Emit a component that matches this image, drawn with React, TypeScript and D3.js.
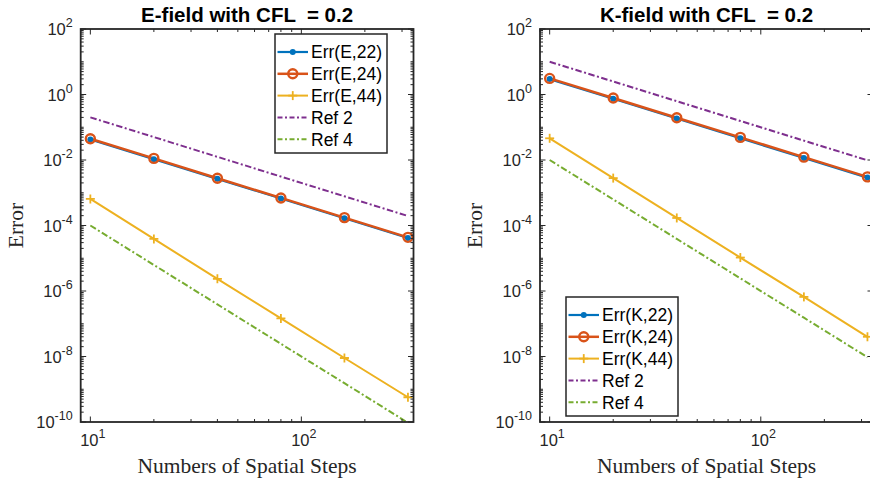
import React from "react";
import * as d3 from "d3";

// ---- Data ----
const steps = [10, 20, 40, 80, 160, 320];

const errE22 = [0.0425, 0.0106, 0.00266, 6.65e-4, 1.66e-4, 4.15e-5];
const errE24 = [0.0445, 0.0112, 0.00278, 6.95e-4, 1.74e-4, 4.35e-5];
const errE44 = [6.5e-4, 3.9e-5, 2.35e-6, 1.45e-7, 9.0e-9, 5.7e-10];
const refE2 = [0.2, 0.05, 0.0125, 0.003125, 7.8e-4, 1.95e-4];
const refE4 = [1e-4, 6.25e-6, 3.9e-7, 2.44e-8, 1.53e-9, 9.5e-11];

const errK22 = [2.95, 0.74, 0.185, 0.046, 0.0116, 0.0029];
const errK24 = [3.1, 0.78, 0.195, 0.049, 0.0122, 0.00305];
const errK44 = [0.046, 0.0028, 1.7e-4, 1.05e-5, 6.6e-7, 4.0e-8];
const refK2 = [10, 2.5, 0.625, 0.156, 0.039, 0.0098];
const refK4 = [0.01, 6.25e-4, 3.9e-5, 2.44e-6, 1.53e-7, 9.5e-9];

const xDomain = [9, 340];
const yDomain = [1e-10, 1e2];
const xTickExps = [1, 2];
const yTickExps = [2, 0, -2, -4, -6, -8, -10];

const titles = ["E-field with CFL  = 0.2", "K-field with CFL  = 0.2"];
const legendE = ["Err(E,22)", "Err(E,24)", "Err(E,44)", "Ref 2", "Ref 4"];
const legendK = ["Err(K,22)", "Err(K,24)", "Err(K,44)", "Ref 2", "Ref 4"];

const COLORS = ["#0072BD", "#D95319", "#EDB120", "#7E2F8E", "#77AC30"];
const AX = "#262626";
const SANS = "'Liberation Sans', Arial, Helvetica, sans-serif";
const SERIF = "'Liberation Serif', 'Times New Roman', serif";
const DASH = "6.5,2.5,2,2.5";

type SeriesStyle = { kind: "dot" | "circle" | "plus" | "dash"; width: number };
const styles: SeriesStyle[] = [
  { kind: "dot", width: 2.2 },
  { kind: "circle", width: 2.5 },
  { kind: "plus", width: 2 },
  { kind: "dash", width: 2 },
  { kind: "dash", width: 2 },
];

function Marker({ kind, cx, cy, color }: { kind: string; cx: number; cy: number; color: string }) {
  if (kind === "dot") return <circle cx={cx} cy={cy} r={3} fill={color} />;
  if (kind === "circle")
    return <circle cx={cx} cy={cy} r={4.5} fill="none" stroke={color} strokeWidth={2.4} />;
  if (kind === "plus")
    return (
      <g stroke={color} strokeWidth={1.8}>
        <line x1={cx - 4.5} x2={cx + 4.5} y1={cy} y2={cy} />
        <line x1={cx} x2={cx} y1={cy - 4.5} y2={cy + 4.5} />
      </g>
    );
  return null;
}

function Panel({
  id,
  left,
  right,
  title,
  series,
  labels,
  legend,
}: {
  id: string;
  left: number;
  right: number;
  title: string;
  series: number[][];
  labels: string[];
  legend: { x: number; y: number };
}) {
  const top = 29;
  const bottom = 422;
  const x = d3.scaleLog().domain(xDomain).range([left, right]);
  const y = d3.scaleLog().domain(yDomain).range([bottom, top]);
  const line = d3
    .line<number>()
    .x((_, i) => x(steps[i]))
    .y((d) => y(d));

  const xMinor: number[] = [];
  for (let e = 0; e <= 2; e++) {
    for (let m = 1; m <= 9; m++) {
      const v = m * Math.pow(10, e);
      if (v >= xDomain[0] && v <= xDomain[1] && !(m === 1 && xTickExps.includes(e))) xMinor.push(v);
    }
  }
  const yMinor: number[] = [];
  for (let e = -10; e <= 1; e++) {
    for (let m = 1; m <= 9; m++) {
      const v = m * Math.pow(10, e);
      if (m === 1 && yTickExps.includes(e)) continue;
      if (v > yDomain[0] && v < yDomain[1]) yMinor.push(v);
    }
  }
  const majL = 5.5;
  const minL = 3;
  const lw = 112;
  const lh = 119;
  const rowH = 21.8;

  return (
    <g>
      <defs>
        <clipPath id={id}>
          <rect x={left} y={top} width={right - left} height={bottom - top} />
        </clipPath>
      </defs>
      <g clipPath={`url(#${id})`}>
        {series.map((s, i) => (
          <path
            key={"l" + i}
            d={line(s) || ""}
            fill="none"
            stroke={COLORS[i]}
            strokeWidth={styles[i].width}
            strokeDasharray={styles[i].kind === "dash" ? DASH : undefined}
          />
        ))}
        {series.map((s, i) =>
          styles[i].kind === "dash"
            ? null
            : s.map((v, j) => (
                <Marker key={`m${i}-${j}`} kind={styles[i].kind} cx={x(steps[j])} cy={y(v)} color={COLORS[i]} />
              ))
        )}
      </g>
      <g stroke={AX} strokeWidth={1}>
        {xTickExps.map((e) => {
          const px = x(Math.pow(10, e));
          return (
            <g key={"xt" + e}>
              <line x1={px} x2={px} y1={bottom} y2={bottom - majL} />
              <line x1={px} x2={px} y1={top} y2={top + majL} />
            </g>
          );
        })}
        {xMinor.map((v) => {
          const px = x(v);
          return (
            <g key={"xm" + v}>
              <line x1={px} x2={px} y1={bottom} y2={bottom - minL} />
              <line x1={px} x2={px} y1={top} y2={top + minL} />
            </g>
          );
        })}
        {yTickExps.map((e) => {
          const py = y(Math.pow(10, e));
          return (
            <g key={"yt" + e}>
              <line x1={left} x2={left + majL} y1={py} y2={py} />
              <line x1={right} x2={right - majL} y1={py} y2={py} />
            </g>
          );
        })}
        {yMinor.map((v) => {
          const py = y(v);
          return (
            <g key={"ym" + v}>
              <line x1={left} x2={left + minL} y1={py} y2={py} />
              <line x1={right} x2={right - minL} y1={py} y2={py} />
            </g>
          );
        })}
      </g>
      <rect x={left} y={top} width={right - left} height={bottom - top} fill="none" stroke={AX} strokeWidth={1.8} />
      <g fill={AX} fontFamily={SANS} fontSize={16.5}>
        {xTickExps.map((e) => (
          <text key={"xl" + e} x={x(Math.pow(10, e)) + 2.5} y={446} textAnchor="middle">
            <tspan>10</tspan>
            <tspan fontSize={12.5} dy={-8}>
              {e}
            </tspan>
          </text>
        ))}
        {yTickExps.map((e) => (
          <text key={"yl" + e} x={left - 8} y={y(Math.pow(10, e)) + 6} textAnchor="end">
            <tspan>10</tspan>
            <tspan fontSize={12.5} dy={-8}>
              {e}
            </tspan>
          </text>
        ))}
      </g>
      <text
        x={(left + right) / 2}
        y={21.5}
        textAnchor="middle"
        fontFamily={SANS}
        fontWeight="bold"
        fontSize={20.5}
        fill="#000"
        style={{ whiteSpace: "pre" }}
      >
        {title}
      </text>
      <text x={(left + right) / 2} y={473} textAnchor="middle" fontFamily={SERIF} fontSize={21.5} fill={AX}>
        Numbers of Spatial Steps
      </text>
      <text
        transform={`translate(${left - 58},${(top + bottom) / 2}) rotate(-90)`}
        textAnchor="middle"
        fontFamily={SERIF}
        fontSize={21.5}
        fill={AX}
      >
        Error
      </text>
      <g>
        <rect x={legend.x} y={legend.y} width={lw} height={lh} fill="#fff" stroke={AX} strokeWidth={1.5} />
        {labels.map((lab, i) => {
          const cy = legend.y + 18 + i * rowH;
          const x1 = legend.x + 2.5;
          const x2 = legend.x + 33;
          return (
            <g key={"lg" + i}>
              <line
                x1={x1}
                x2={x2}
                y1={cy}
                y2={cy}
                stroke={COLORS[i]}
                strokeWidth={styles[i].width}
                strokeDasharray={styles[i].kind === "dash" ? "5,2.5,2,2.5" : undefined}
              />
              <Marker kind={styles[i].kind} cx={(x1 + x2) / 2} cy={cy} color={COLORS[i]} />
              <text x={legend.x + 36} y={cy + 6.3} fontFamily={SANS} fontSize={17.5} fill="#000">
                {lab}
              </text>
            </g>
          );
        })}
      </g>
    </g>
  );
}

export default function App() {
  return (
    <svg
      width={870}
      height={485}
      style={{ position: "absolute", left: 0, top: 0, background: "#fff" }}
      xmlns="http://www.w3.org/2000/svg"
    >
      <rect width={870} height={485} fill="#fff" />
      <Panel
        id="clipE"
        left={80.7}
        right={413.5}
        title={titles[0]}
        series={[errE22, errE24, errE44, refE2, refE4]}
        labels={legendE}
        legend={{ x: 275, y: 34 }}
      />
      <Panel
        id="clipK"
        left={540}
        right={873}
        title={titles[1]}
        series={[errK22, errK24, errK44, refK2, refK4]}
        labels={legendK}
        legend={{ x: 566, y: 297 }}
      />
    </svg>
  );
}
